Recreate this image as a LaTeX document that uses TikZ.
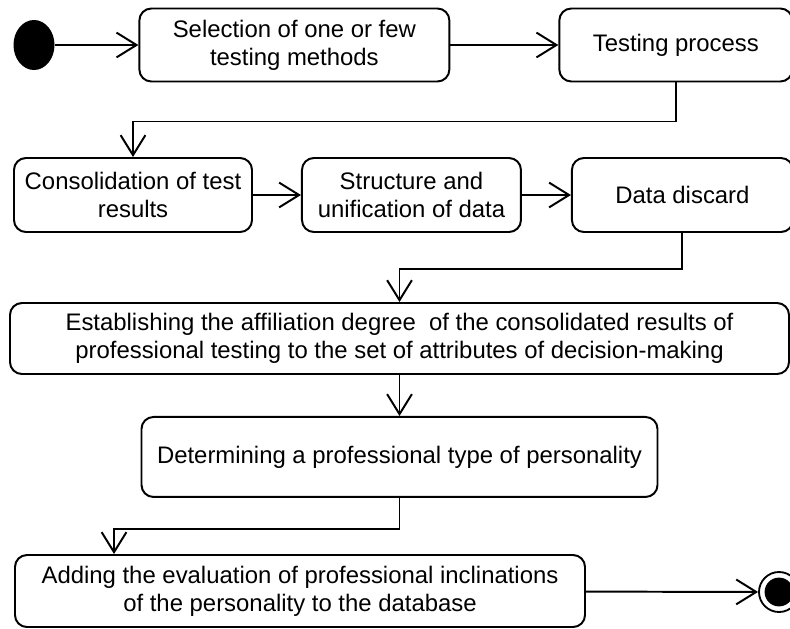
\documentclass[tikz,border=0pt]{standalone}
\usepackage{fontspec}
\setmainfont{Liberation Sans}
\usetikzlibrary{arrows.meta,positioning,shapes.geometric,calc}

\begin{document}
\begin{tikzpicture}[
    font=\fontsize{17}{20}\selectfont,
    act/.style={draw=black, fill=white, rectangle, rounded corners=8.5pt, minimum height=1.825cm, align=center, line width=1.4pt, inner sep=2pt},
    startnode/.style={ellipse, fill=black, minimum width=1.025cm, minimum height=1.25cm, inner sep=0pt},
    endnode/.style={circle, draw=black, line width=1.3pt, minimum size=1cm, inner sep=0pt, path picture={\fill[black] (path picture bounding box.center) circle (0.36cm);}},
    arrow/.style={-{Straight Barb[length=0.5cm, width=0.62cm]}, draw=black, line width=1.4pt}
  ]
    \useasboundingbox (0,0) rectangle (19.75,-15.7);
    % first row
    \node[startnode] (start) at (0.85,-1.125) {};
    \node[act, minimum width=7.75cm, right=2.09cm of start] (select) {Selection of one or few\\testing methods};
    \node[act, minimum width=5.825cm, right=2.7cm of select] (testing) {Testing process};
    % second row
    \node[act, minimum width=5.95cm, minimum height=1.85cm] (consol) at (3.325,-4.875) {Consolidation of test\\results};
    \node[act, minimum width=5.475cm, minimum height=1.85cm, right=1.2cm of consol] (struct) {Structure and\\unification of data};
    \node[act, minimum width=5.525cm, minimum height=1.85cm, right=1.225cm of struct] (discard) {Data discard};
    % lower part
    \node[act, minimum width=19.475cm, minimum height=1.775cm] (affil) at (9.9875,-8.4625) {Establishing the affiliation degree \ of the consolidated results of\\professional testing to the set of attributes of decision-making};
    \node[act, minimum width=12.9cm, minimum height=2cm, below=1.025cm of affil] (ptype) {Determining a professional type of personality};
    \node[act, minimum width=14.25cm, minimum height=1.8cm] (adding) at (7.5,-14.775) {Adding the evaluation of professional inclinations\\of the personality to the database};
    \node[endnode] (end) at (19.475,-14.8) {};
    \coordinate (addin) at ($(adding.north west)+(2.5,0)$);
    % flow
    \draw[arrow] (start) -- (select);
    \draw[arrow] (select) -- (testing);
    \draw[arrow] (testing.south) -- ++(0,-0.975) -| (consol.north);
    \draw[arrow] (consol) -- (struct);
    \draw[arrow] (struct) -- (discard);
    \draw[arrow] (discard.south) -- ++(0,-0.9) -| (affil.north);
    \draw[arrow] (affil) -- (ptype);
    \draw[arrow] (ptype.south) -- ++(0,-0.775) -| (addin);
    \draw[arrow] (adding) -- (end);
  \end{tikzpicture}
\end{document}
